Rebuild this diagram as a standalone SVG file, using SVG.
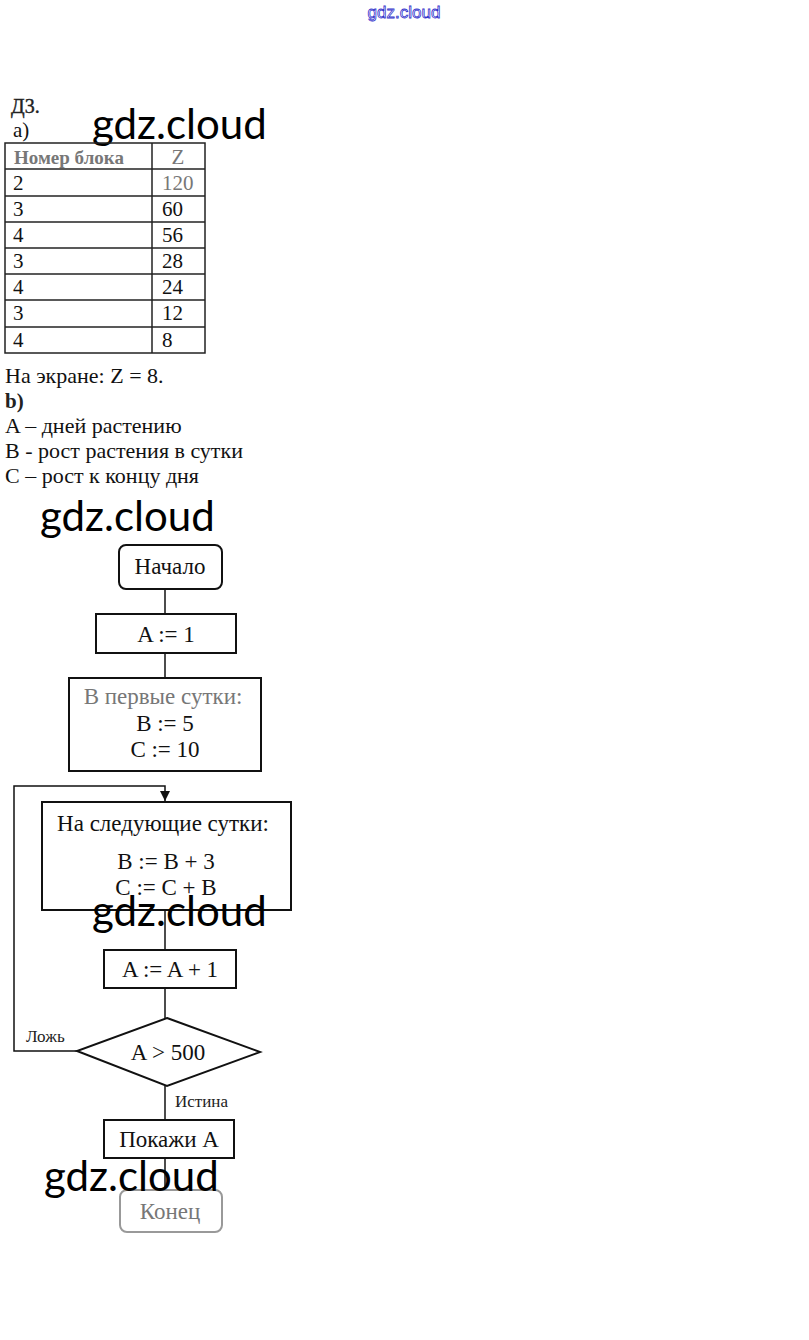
<svg xmlns="http://www.w3.org/2000/svg" width="809" height="1340" viewBox="0 0 809 1340">
<style>
.t{font-family:"Liberation Serif","Times New Roman",serif;font-size:22px;fill:#111}
.tt{font-family:"Liberation Serif","Times New Roman",serif;font-size:21px;fill:#111}
.fc{font-family:"Liberation Serif","Times New Roman",serif;font-size:23px;fill:#111}
.tb{font-family:"Liberation Serif","Times New Roman",serif;font-size:19px;font-weight:bold;fill:#222}
.s{font-family:"Liberation Serif","Times New Roman",serif;font-size:17px;fill:#222}
.c{text-anchor:middle}
.f{fill:#777}
.wm{font-family:Lato,"Open Sans",sans-serif;font-size:42px;fill:#000}
.box{fill:#fff;stroke:#111;stroke-width:2}
.ln{fill:none;stroke:#111;stroke-width:1.5}
.grid{fill:none;stroke:#222;stroke-width:1.5}
</style>
<defs>
<marker id="ad" markerWidth="10" markerHeight="10" refX="5" refY="10" markerUnits="userSpaceOnUse" viewBox="0 0 10 10">
<path d="M0,0 L10,0 L5,10 Z" fill="#111"/>
</marker>
</defs>
<rect width="809" height="1340" fill="#fff"/>
<text x="404" y="18" text-anchor="middle" style="font-family:'Liberation Sans',Arial,sans-serif;font-size:17px;fill:#fff;stroke:#3333cc;stroke-width:0.8">gdz.cloud</text>
<text x="11" y="113" class="tb" style="font-size:20px;font-weight:normal;stroke:#222;stroke-width:0.4">Д3.</text>
<text x="13" y="137" class="tt">a)</text>
<text x="92" y="139" class="wm">gdz.cloud</text>
<g id="table">
<rect x="5" y="143" width="200" height="210" class="grid"/>
<line x1="152" y1="143" x2="152" y2="353" class="grid"/>
<line x1="5" y1="169" x2="205" y2="169" class="grid"/>
<line x1="5" y1="196" x2="205" y2="196" class="grid"/>
<line x1="5" y1="222" x2="205" y2="222" class="grid"/>
<line x1="5" y1="248" x2="205" y2="248" class="grid"/>
<line x1="5" y1="274" x2="205" y2="274" class="grid"/>
<line x1="5" y1="300" x2="205" y2="300" class="grid"/>
<line x1="5" y1="327" x2="205" y2="327" class="grid"/>
<text x="14" y="164" class="tb f">Номер блока</text>
<text x="178" y="164" class="tt c f">Z</text>
<text x="13" y="190" class="tt">2</text><text x="162" y="190" class="tt f">120</text>
<text x="13" y="216" class="tt">3</text><text x="162" y="216" class="tt">60</text>
<text x="13" y="242" class="tt">4</text><text x="162" y="242" class="tt">56</text>
<text x="13" y="268" class="tt">3</text><text x="162" y="268" class="tt">28</text>
<text x="13" y="294" class="tt">4</text><text x="162" y="294" class="tt">24</text>
<text x="13" y="320" class="tt">3</text><text x="162" y="320" class="tt">12</text>
<text x="13" y="347" class="tt">4</text><text x="162" y="347" class="tt">8</text>
</g>
<text x="5" y="383" class="t">На экране: Z = 8.</text>
<text x="5" y="408" class="tb" style="font-size:21px">b)</text>
<text x="5" y="433" class="t">A – дней растению</text>
<text x="5" y="458" class="t">B - рост растения в сутки</text>
<text x="5" y="483" class="t">C – рост к концу дня</text>
<text x="40" y="531" class="wm">gdz.cloud</text>
<g id="connectors">
<line x1="165" y1="589" x2="165" y2="614" class="ln"/>
<line x1="165" y1="653" x2="165" y2="678" class="ln"/>
<polyline points="77,1051 14,1051 14,786 165,786 165,801" class="ln" marker-end="url(#ad)"/>
<line x1="165" y1="910" x2="165" y2="950" class="ln"/>
<line x1="165" y1="988" x2="165" y2="1018" class="ln"/>
<line x1="165" y1="1086" x2="165" y2="1120" class="ln"/>
<line x1="165" y1="1158" x2="165" y2="1190" class="ln"/>
<text x="26" y="1042" class="s">Ложь</text>
<text x="175" y="1107" class="s">Истина</text>
</g>
<g id="start">
<rect x="119" y="545" width="103" height="44" rx="7" class="box"/>
<text x="170" y="574" class="fc c">Начало</text>
</g>
<g id="a1">
<rect x="96" y="614" width="140" height="39" class="box"/>
<text x="166" y="642" class="fc c">A := 1</text>
</g>
<g id="first">
<rect x="69" y="678" width="192" height="93" class="box"/>
<text x="163" y="704" class="fc c f">В первые сутки:</text>
<text x="165" y="731" class="fc c">B := 5</text>
<text x="165" y="757" class="fc c">C := 10</text>
</g>
<g id="next">
<rect x="42" y="802" width="249" height="108" class="box"/>
<text x="163" y="831" class="fc c">На следующие сутки:</text>
<text x="166" y="869" class="fc c">B := B + 3</text>
<text x="166" y="895" class="fc c">C := C + B</text>
</g>
<text x="92" y="926" class="wm">gdz.cloud</text>
<g id="inc">
<rect x="104" y="950" width="132" height="38" class="box"/>
<text x="170" y="977" class="fc c">A := A + 1</text>
</g>
<g id="cond">
<polygon points="167,1018 260,1052 167,1086 77,1051" class="box"/>
<text x="168" y="1060" class="fc c">A &gt; 500</text>
</g>
<g id="show">
<rect x="104" y="1120" width="130" height="38" class="box"/>
<text x="169" y="1147" class="fc c">Покажи A</text>
</g>
<g id="end">
<rect x="120" y="1190" width="102" height="42" rx="7" class="box" style="stroke:#999"/>
<text x="170" y="1219" class="fc c f">Конец</text>
</g>
<text x="44" y="1191" class="wm">gdz.cloud</text>
</svg>
